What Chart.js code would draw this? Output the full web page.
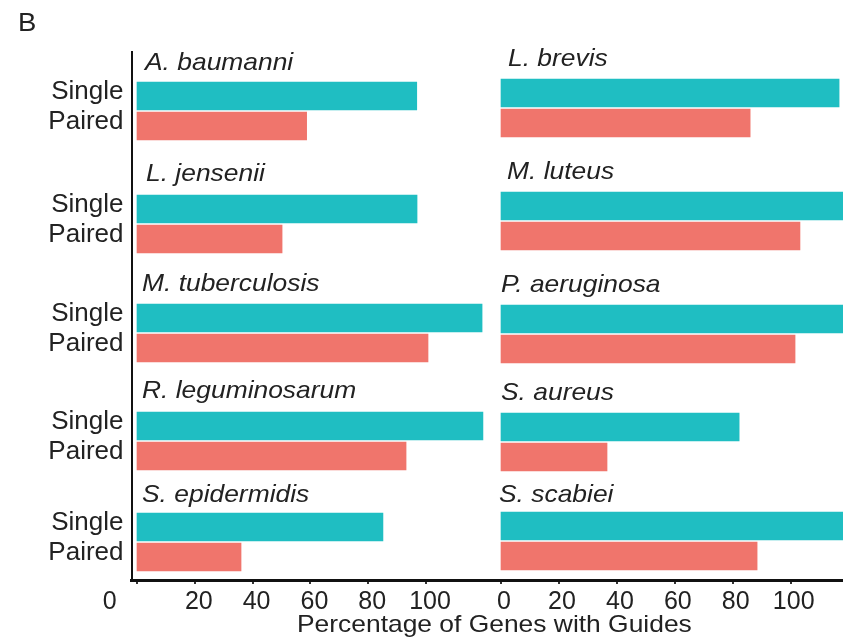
<!DOCTYPE html>
<html>
<head>
<meta charset="utf-8">
<script src="https://cdn.jsdelivr.net/npm/chart.js@4.4.1/dist/chart.umd.min.js"></script>
<style>
  html, body { margin: 0; padding: 0; background: #fff; }
  #fig { position: relative; width: 843px; height: 638px; overflow: hidden;
         font-family: "Liberation Sans", Arial, Helvetica, sans-serif; color: #222; }
  #fig canvas { position: absolute; }
  .txt { position: absolute; white-space: nowrap; transform-origin: 0 0;
         transform: scaleX(1.1); font-size: 24px; line-height: 24px; }
  .sp { font-style: italic; }
</style>
</head>
<body>
<div id="fig"></div>
<script>
// Share of genes that have at least one usable guide, per organism
const species = [
  'A. baumanni', 'L. brevis',
  'L. jensenii', 'M. luteus',
  'M. tuberculosis', 'P. aeruginosa',
  'R. leguminosarum', 'S. aureus',
  'S. epidermidis', 'S. scabiei'
];
const guideTypes = ['Single', 'Paired'];
const singlePct = [96.8, 116.7, 96.9, 120, 119.4, 120, 119.7, 82.2, 85.1, 120];
const pairedPct = [58.7, 86.0, 50.2, 103.2, 100.7, 101.5, 93.1, 36.6, 36.0, 88.4];
const pctTicks = [0, 20, 40, 60, 80, 100];
const axisTitle = 'Percentage of Genes with Guides';
const panelTag = 'B';

// ---- layout -------------------------------------------------------------
const TEAL = '#1FBEC2';
const SALMON = '#F0756C';
const FONT = '"Liberation Sans", Arial, Helvetica, sans-serif';
const INK = '#222';

// the two facet columns: canvas placement and value range of their x scale
const columns = [
  { left: 0,   width: 490, min: -1.903, max: 122.145, labelOffset: 4 },
  { left: 490, width: 353, min: -3.797, max: 118.05,  labelOffset: 3 }
];
const Y_AXIS_W = 131.5;        // room for the Single / Paired labels
const PLOT_TOP = 52;
const PLOT_BOTTOM = 580;
const PANEL_H = 60;            // height of one Single/Paired bar pair
const PANEL_PAD = 12;          // spare canvas above/below so labels are not cut
// top of each facet's bar pair, column by column
const rowTops = [[81, 194, 303, 411, 512], [78, 191, 304, 412, 511]];
// facet title anchors: [left, baseline]
const titleAt = [
  [145, 70], [508, 66],
  [146, 181], [507, 179],
  [142, 291], [501, 292],
  [142, 398], [501, 400],
  [142, 502], [499, 502]
];

const fig = document.getElementById('fig');

function addCanvas(left, top, w, h) {
  const c = document.createElement('canvas');
  c.width = w; c.height = h;
  c.style.left = left + 'px'; c.style.top = top + 'px';
  c.style.width = w + 'px'; c.style.height = h + 'px';
  fig.appendChild(c);
  return c;
}

function addText(str, left, baseline, size, cls) {
  const d = document.createElement('div');
  d.className = 'txt ' + (cls || '');
  d.style.fontSize = size + 'px';
  d.style.lineHeight = size + 'px';
  // baseline of a single line box whose height equals the font size
  d.style.left = left + 'px';
  d.style.top = (baseline - size * 0.8465) + 'px';
  d.textContent = str;
  fig.appendChild(d);
}

// fixed-width left axis that does not reserve room above/below the plot
function fixLeftAxis(a) {
  a.width = Y_AXIS_W;
  a.paddingTop = 0;
  a.paddingBottom = 0;
}

const common = {
  responsive: false,
  animation: false,
  events: [],
  plugins: { legend: { display: false }, tooltip: { enabled: false } }
};

// ---- axis frames (bottom axis per column, left axis line) ---------------
columns.forEach((col, ci) => {
  const cv = addCanvas(col.left, 0, col.width, 638);
  const yAxis = ci === 0
    ? { display: true, type: 'linear', min: 0, max: 1,
        grid: { display: false, drawTicks: false },
        ticks: { display: false },
        border: { display: true, color: '#111', width: 2 },
        afterFit: fixLeftAxis }
    : { display: false, type: 'linear', min: 0, max: 1 };
  new Chart(cv, {
    type: 'scatter',
    data: { datasets: [] },
    options: Object.assign({}, common, {
      layout: { padding: { top: PLOT_TOP, left: 0, right: 0, bottom: 0 } },
      scales: {
        x: {
          type: 'linear', position: 'bottom', min: col.min, max: col.max,
          afterBuildTicks: a => { a.ticks = pctTicks.map(v => ({ value: v })); },
          afterFit: a => { a.height = 638 - PLOT_BOTTOM; a.paddingLeft = 0; a.paddingRight = 0; },
          grid: { display: true, drawOnChartArea: false, drawTicks: true,
                  tickLength: 4, color: '#333', lineWidth: 2 },
          border: { display: true, color: '#111', width: 3 },
          ticks: {
            autoSkip: false, maxRotation: 0, minRotation: 0, padding: 3,
            labelOffset: col.labelOffset, color: INK,
            font: { family: FONT, size: 25 },
            // the left zero is nudged clear of the axis corner
            callback: v => (ci === 0 && v === 0) ? '0' + ' '.repeat(9) : String(v)
          }
        },
        y: yAxis
      }
    })
  });
});

// ---- one small horizontal bar chart per organism ------------------------
species.forEach((name, i) => {
  const ci = i % 2;
  const ri = Math.floor(i / 2);
  const col = columns[ci];
  const cv = addCanvas(col.left, rowTops[ci][ri] - PANEL_PAD, col.width, PANEL_H + 2 * PANEL_PAD);
  const yAxis = ci === 0
    ? { display: true,
        grid: { display: false, drawTicks: false },
        border: { display: false },
        ticks: { autoSkip: false, color: INK, padding: 8, labelOffset: -4,
                 font: { family: FONT, size: 26 } },
        afterFit: fixLeftAxis }
    : { display: false };
  new Chart(cv, {
    type: 'bar',
    data: {
      labels: guideTypes,
      datasets: [{
        data: [singlePct[i], pairedPct[i]],
        backgroundColor: [TEAL, SALMON],
        borderWidth: 0,
        barThickness: 28
      }]
    },
    options: Object.assign({}, common, {
      indexAxis: 'y',
      layout: { padding: { top: PANEL_PAD, bottom: PANEL_PAD, left: 0, right: 0 } },
      scales: {
        x: { type: 'linear', display: false, min: col.min, max: col.max },
        y: yAxis
      }
    })
  });
  addText(name, titleAt[i][0], titleAt[i][1], 24, 'sp');
});

addText(panelTag, 18, 31, 25, '');
addText(axisTitle, 297, 632.7, 24, '');
</script>
</body>
</html>
